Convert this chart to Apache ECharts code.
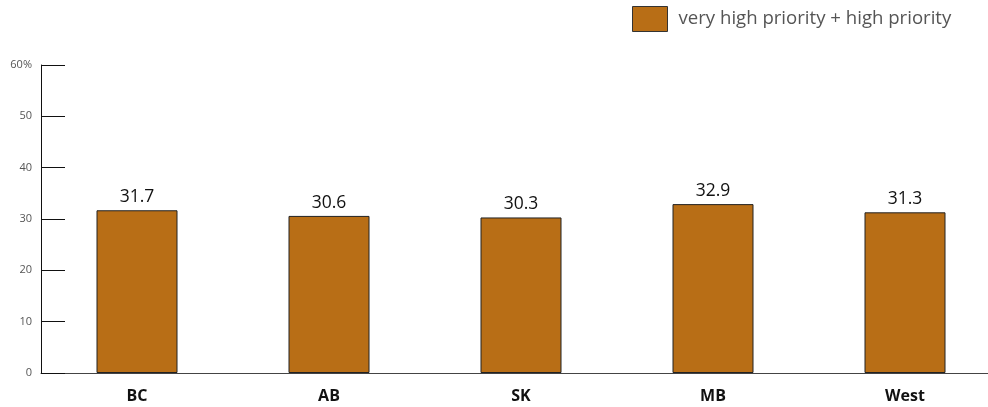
<!DOCTYPE html>
<html>
<head>
<meta charset="utf-8">
<script src="https://cdn.jsdelivr.net/npm/echarts@6/dist/echarts.min.js"></script>
<style>
html,body{margin:0;padding:0;background:#fff;overflow:hidden;}
#chart{width:1001px;height:407px;}
</style>
</head>
<body>
<div id="chart"></div>
<script>
// Regions and share rating the issue as very high or high priority (%)
const regions = ['BC', 'AB', 'SK', 'MB', 'West'];
const priorityShare = [31.7, 30.6, 30.3, 32.9, 31.3];
const seriesName = 'very high priority + high priority';
const yTicks = { min: 0, max: 60, interval: 10 };

const chart = echarts.init(document.getElementById('chart'), null, { renderer: 'canvas' });
chart.setOption({
  animation: false,
  textStyle: { fontFamily: 'Open Sans' },
  legend: {
    data: [{ name: seriesName, icon: 'rect' }],
    left: 632,
    top: 6,
    padding: 0,
    itemWidth: 35,
    itemHeight: 25,
    itemGap: 10,
    textStyle: { fontSize: 18.6, color: '#555', fontFamily: 'Open Sans', padding: [0, 0, 0, 6] },
    itemStyle: { borderColor: '#333', borderWidth: 1 }
  },
  grid: { left: 41, right: 0, top: 65, bottom: 34, containLabel: false },
  xAxis: {
    type: 'category',
    data: regions,
    axisLine: { lineStyle: { color: '#444', width: 1 } },
    axisTick: { show: false },
    axisLabel: { fontSize: 16, fontWeight: 'bold', color: '#111', margin: 15, fontFamily: 'Open Sans' }
  },
  yAxis: {
    type: 'value',
    min: yTicks.min,
    max: yTicks.max,
    interval: yTicks.interval,
    splitLine: { show: false },
    axisLine: { show: true, lineStyle: { color: '#111', width: 1 } },
    axisTick: { show: true, inside: true, length: 24, lineStyle: { color: '#111' } },
    axisLabel: {
      fontSize: 11, color: '#555', margin: 9,
      formatter: v => v === yTicks.max ? v + '%' : String(v)
    }
  },
  series: [{
    name: seriesName,
    type: 'bar',
    data: priorityShare,
    barWidth: 81,
    itemStyle: { color: '#B86E16', borderColor: '#222', borderWidth: 1 },
    label: {
      show: true, position: 'top', distance: 4,
      fontSize: 17.5, color: '#111', fontFamily: 'Open Sans',
      formatter: p => p.value.toFixed(1)
    }
  }]
});
</script>
</body>
</html>
